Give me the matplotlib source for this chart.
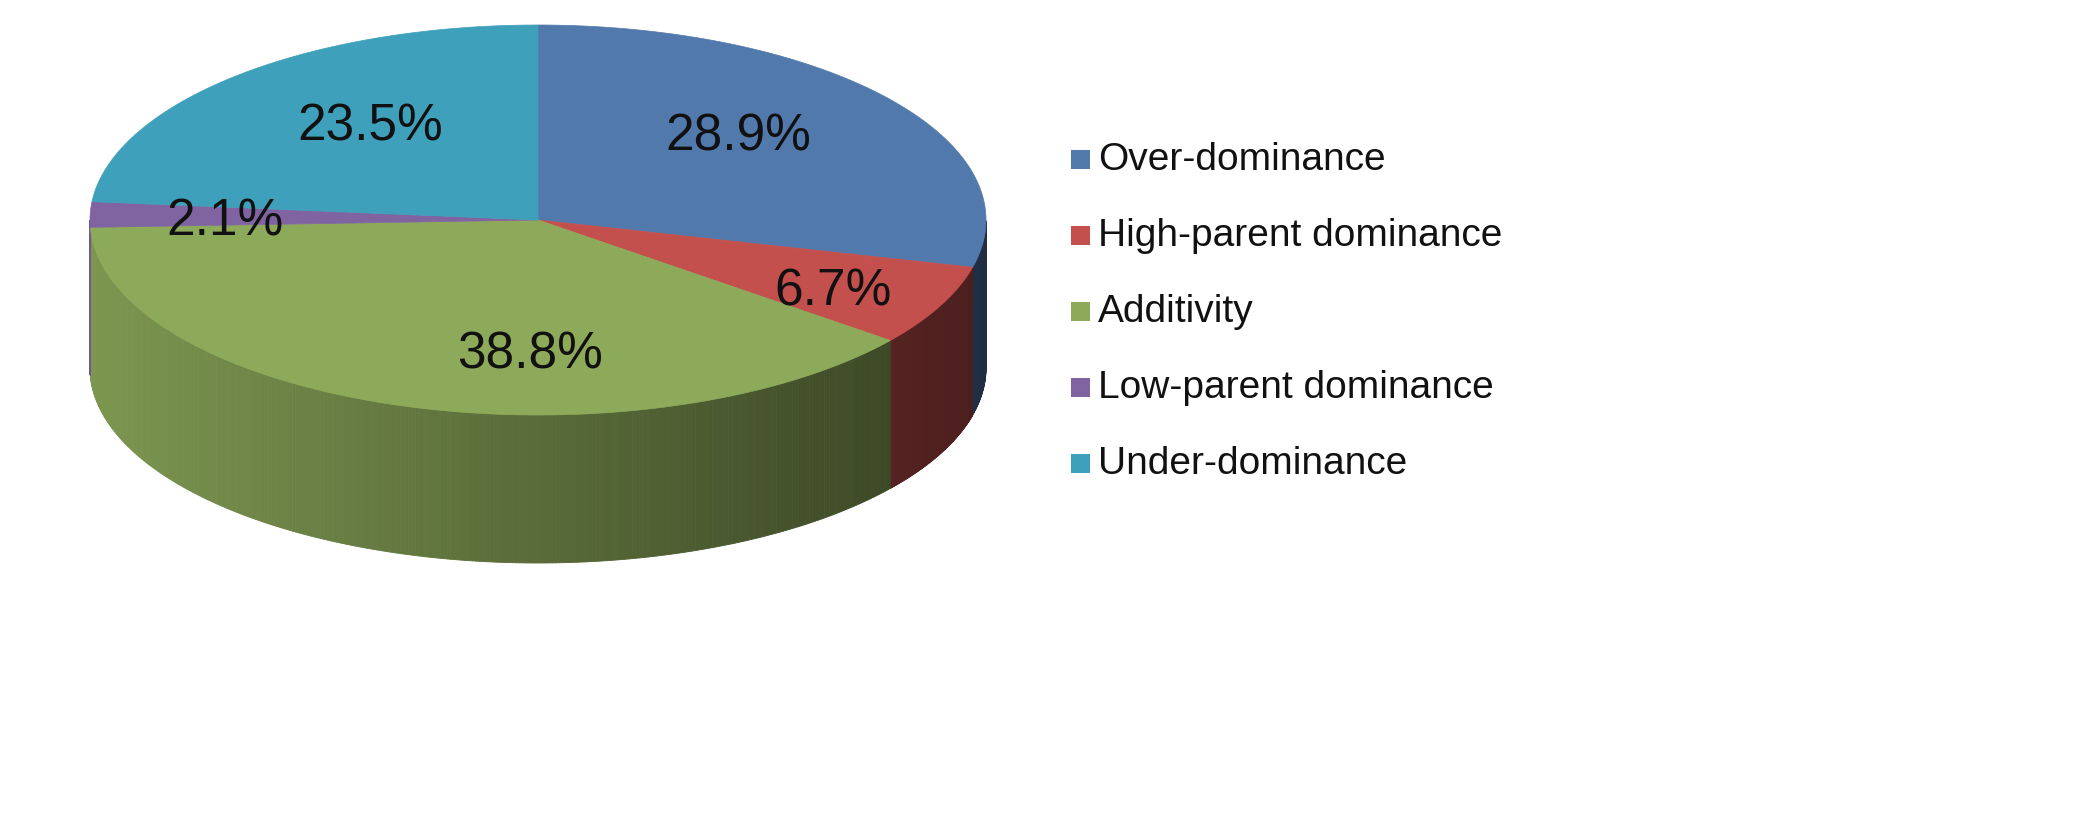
import numpy as np
import matplotlib.pyplot as plt
from matplotlib.patches import Polygon, Rectangle
from matplotlib.colors import to_rgb

plt.rcParams['font.family'] = ['Liberation Sans', 'DejaVu Sans']

labels = ['Over-dominance', 'High-parent dominance', 'Additivity',
          'Low-parent dominance', 'Under-dominance']
values = [28.9, 6.7, 38.8, 2.1, 23.5]
colors = ['#5279AC', '#C4504D', '#8DAA5A', '#8064A2', '#3EA0BA']

W, H = 2089, 814
cx, cy = 538, H - 220
rx, ry, depth = 448, 195, 148
label_pos = [(738, H - 137), (833, H - 292), (530, H - 355), (225, H - 222), (370, H - 127)]

fig = plt.figure(figsize=(W / 100, H / 100), dpi=100)
ax = fig.add_axes([0, 0, 1, 1])
ax.set_xlim(0, W)
ax.set_ylim(0, H)
ax.axis('off')

def pt(a):
    r = np.radians(a)
    return cx + rx * np.cos(r), cy + ry * np.sin(r)

fracs = np.array(values) / sum(values)
starts = 90 - 360 * np.concatenate([[0], np.cumsum(fracs)[:-1]])
ends = starts - 360 * fracs

# side walls, front half only, darker to the right
for s, e, c in zip(starts, ends, colors):
    base = np.array(to_rgb(c))
    angs = np.linspace(s, e, 300)
    for a1, a2 in zip(angs[:-1], angs[1:]):
        am = (a1 + a2) / 2
        if np.sin(np.radians(am)) >= 0:
            continue
        x1, y1 = pt(a1)
        x2, y2 = pt(a2)
        t = ((x1 + x2) / 2 - (cx - rx)) / (2 * rx)
        col = np.clip(base * (0.88 - 0.5 * t), 0, 1)
        ax.add_patch(Polygon([(x1, y1), (x2, y2), (x2, y2 - depth), (x1, y1 - depth)],
                             closed=True, fc=col, ec=col, lw=0.6))

# top face
for s, e, c in zip(starts, ends, colors):
    angs = np.linspace(s, e, 200)
    pts = [(cx, cy)] + [pt(a) for a in angs]
    ax.add_patch(Polygon(pts, closed=True, fc=c, ec=c, lw=0.5))

for v, (x, y) in zip(values, label_pos):
    ax.text(x, y, f'{v}%', fontsize=37, ha='center', va='center', color='#111111')

for i, (lab, c) in enumerate(zip(labels, colors)):
    y = H - (160 + 76 * i)
    ax.add_patch(Rectangle((1071, y - 9), 19, 19, fc=c, ec='none'))
    ax.text(1098, y, lab, fontsize=28, va='center', ha='left', color='#111111')

plt.savefig('out.png', dpi=100)
